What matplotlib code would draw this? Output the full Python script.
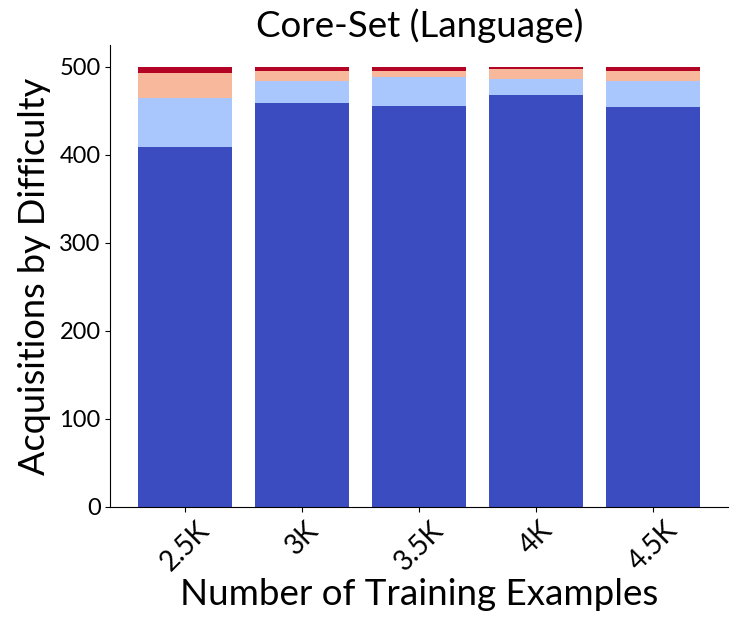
import matplotlib.pyplot as plt
import numpy as np

plt.rcParams['font.family'] = ['Lato', 'DejaVu Sans']

# acquisitions per difficulty bucket (easy -> hard)
labels = ['2.5K', '3K', '3.5K', '4K', '4.5K']
easy = [409, 459, 456, 468, 455]
medium = [56, 25, 33, 18, 29]
hard = [28, 11, 7, 12, 12]
hardest = [7, 5, 4, 2, 4]

series = [easy, medium, hard, hardest]
colors = plt.cm.coolwarm(np.linspace(0, 1, len(series)))

fig, ax = plt.subplots(figsize=(7.4, 6.25), dpi=100)
x = np.arange(len(labels))
bottom = np.zeros(len(labels))
for vals, c in zip(series, colors):
    ax.bar(x, vals, bottom=bottom, color=c, width=0.8)
    bottom += np.array(vals)

ax.set_xticks(x)
ax.set_xticklabels(labels, rotation=45, fontsize=20)
ax.tick_params(axis='y', labelsize=17)
ax.set_yticks([0, 100, 200, 300, 400, 500])
ax.set_xlabel('Number of Training Examples', fontsize=26.5, labelpad=2)
ax.set_ylabel('Acquisitions by Difficulty', fontsize=26, labelpad=6)
ax.set_title('Core-Set (Language)', fontsize=26.5)
ax.spines['top'].set_visible(False)
ax.spines['right'].set_visible(False)

fig.subplots_adjust(left=0.149, right=0.984, bottom=0.189, top=0.928)
fig.savefig('out.png')
